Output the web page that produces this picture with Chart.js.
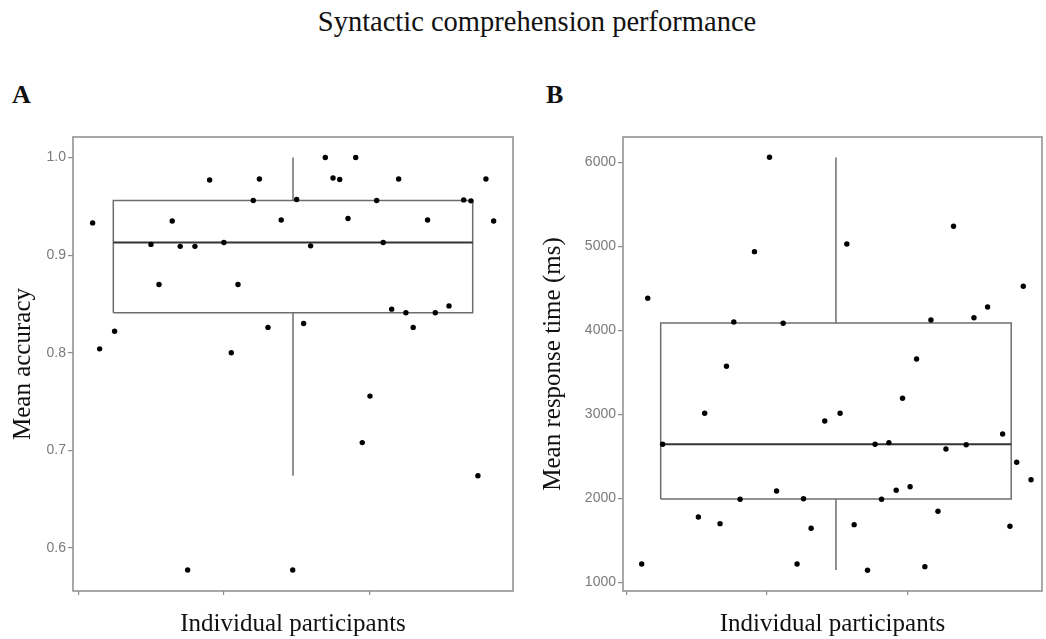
<!DOCTYPE html>
<html>
<head>
<meta charset="utf-8">
<script src="https://cdn.jsdelivr.net/npm/chart.js@4.4.0/dist/chart.umd.min.js"></script>
<style>
  body { margin: 0; background: #fff; width: 1046px; height: 639px; position: relative; overflow: hidden; font-family: "Liberation Serif", serif; color: #111; }
  #title { position: absolute; left: 0; top: 6px; width: 1074px; text-align: center; font-size: 28.5px; line-height: 32px; white-space: nowrap; }
  .tag { position: absolute; top: 80px; font-size: 26px; line-height: 30px; font-weight: bold; }
  #accChart { position: absolute; left: 0; top: 120px; }
  #rtChart { position: absolute; left: 530px; top: 120px; }
</style>
</head>
<body>
<div id="title">Syntactic comprehension performance</div>
<div class="tag" style="left:12px">A</div>
<div class="tag" style="left:546px">B</div>
<canvas id="accChart" width="520" height="519"></canvas>
<canvas id="rtChart" width="516" height="519"></canvas>
<script>
// participants are jittered along x; x ticks at 0, 1, 2 carry no labels
const xTicks = [0, 1, 2];

// panel A: mean accuracy per participant
const accX = [0.099, 0.147, 0.250, 0.500, 0.555, 0.646, 0.701, 0.752, 0.802, 0.903,
  1.001, 1.052, 1.098, 1.203, 1.245, 1.304, 1.395, 1.474, 1.501, 1.549,
  1.597, 1.698, 1.751, 1.797, 1.854, 1.907, 1.952, 2.005, 2.051, 2.096,
  2.154, 2.202, 2.252, 2.302, 2.401, 2.454, 2.548, 2.649, 2.699, 2.747,
  2.802, 2.855];
const accY = [0.933, 0.804, 0.822, 0.911, 0.870, 0.935, 0.909, 0.5775, 0.909, 0.977,
  0.913, 0.800, 0.870, 0.956, 0.978, 0.826, 0.936, 0.5775, 0.957, 0.830,
  0.9095, 1.0, 0.979, 0.9775, 0.9376, 1.0, 0.708, 0.7556, 0.956, 0.913,
  0.8447, 0.978, 0.841, 0.826, 0.936, 0.841, 0.848, 0.9566, 0.9556, 0.674,
  0.978, 0.935];
const accStats = [0.674, 0.841, 0.913, 0.956, 1.0]; // whisker low, q1, median, q3, whisker high
const accBoxSpan = [0.241, 2.711];
const accTicks = [0.6, 0.7, 0.8, 0.9, 1.0];

// panel B: mean response time (ms) per participant
const rtX = [0.109, 0.152, 0.258, 0.512, 0.557, 0.666, 0.712, 0.764, 0.809, 0.911,
  1.018, 1.068, 1.115, 1.214, 1.260, 1.314, 1.411, 1.520, 1.568, 1.620,
  1.715, 1.769, 1.815, 1.867, 1.919, 1.964, 2.018, 2.064, 2.123, 2.166,
  2.216, 2.273, 2.327, 2.417, 2.472, 2.569, 2.676, 2.728, 2.776, 2.823,
  2.878];
const rtY = [1218, 4381, 2643, 1777, 3012, 1698, 3571, 4099, 1988, 4936,
  6060, 2087, 4083, 1218, 1995, 1643, 2920, 3012, 5027, 1686,
  1143, 2643, 1988, 2662, 2095, 3190, 2138, 3658, 1186, 4123,
  1845, 2587, 5238, 2638, 4150, 4277, 2765, 1667, 2429, 4524,
  2221];
const rtStats = [1146, 1992, 2643, 4087, 6058];
const rtBoxSpan = [0.244, 2.737];
const rtTicks = [1000, 2000, 3000, 4000, 5000, 6000];

const serif = 'Liberation Serif';
const sans = 'Liberation Sans';
const axisGrey = '#8c8c8c';

const frame = {
  id: 'frame',
  beforeDatasetsDraw(chart) {
    const { ctx, chartArea: a } = chart;
    ctx.save();
    ctx.strokeStyle = axisGrey;
    ctx.lineWidth = 1.5;
    ctx.strokeRect(a.left, a.top, a.right - a.left, a.bottom - a.top);
    ctx.restore();
  }
};

function segment(points, color, width) {
  return {
    type: 'scatter',
    data: points,
    showLine: true,
    pointRadius: 0,
    borderColor: color,
    borderWidth: width,
    tension: 0
  };
}

function makePanel(canvas, cfg) {
  const [lo, q1, med, q3, hi] = cfg.stats;
  const [bl, br] = cfg.span;
  const mid = (bl + br) / 2;
  const points = cfg.xs.map((x, i) => ({ x, y: cfg.ys[i] }));

  new Chart(canvas, {
    type: 'scatter',
    data: {
      datasets: [
        { data: points, backgroundColor: '#000', borderWidth: 0, pointRadius: 2.7 },
        segment([{ x: bl, y: med }, { x: br, y: med }], '#333', 2),
        segment([{ x: bl, y: q1 }, { x: br, y: q1 }, { x: br, y: q3 }, { x: bl, y: q3 }, { x: bl, y: q1 }], '#6e6e6e', 1.5),
        segment([{ x: mid, y: q3 }, { x: mid, y: hi }], '#6e6e6e', 1.5),
        segment([{ x: mid, y: q1 }, { x: mid, y: lo }], '#6e6e6e', 1.5)
      ]
    },
    options: {
      responsive: false,
      animation: false,
      layout: { padding: { top: 17, right: cfg.rightPad, left: 0, bottom: 0 } },
      plugins: { legend: { display: false }, tooltip: { enabled: false } },
      scales: {
        x: {
          type: 'linear',
          min: cfg.xRange[0],
          max: cfg.xRange[1],
          afterBuildTicks: s => { s.ticks = xTicks.map(v => ({ value: v })); },
          afterFit: s => { s.height = 48; },
          ticks: { display: false },
          grid: { drawOnChartArea: false, tickLength: 4, color: axisGrey, lineWidth: 1.2 },
          border: { display: false },
          title: { display: true, text: 'Individual participants', color: '#111',
                   font: { family: serif, size: 25 }, padding: { top: 0, bottom: 0 } }
        },
        y: {
          type: 'linear',
          min: cfg.yRange[0],
          max: cfg.yRange[1],
          afterBuildTicks: s => { s.ticks = cfg.yTicks.map(v => ({ value: v })); },
          afterFit: s => { s.width = cfg.yWidth; },
          ticks: { color: '#7a7a7a', font: { family: sans, size: 14 }, padding: 2, callback: cfg.fmt },
          grid: { drawOnChartArea: false, tickLength: 5, color: axisGrey, lineWidth: 1.2 },
          border: { display: false },
          title: { display: true, text: cfg.yTitle, color: '#111',
                   font: { family: serif, size: 25 }, padding: { top: 8, bottom: 0 } }
        }
      }
    },
    plugins: [frame]
  });
}

makePanel(document.getElementById('accChart'), {
  xs: accX, ys: accY, stats: accStats, span: accBoxSpan, yTicks: accTicks,
  xRange: [-0.036, 2.988], yRange: [0.556, 1.021],
  yWidth: 73, rightPad: 7, yTitle: 'Mean accuracy', fmt: v => v.toFixed(1)
});

makePanel(document.getElementById('rtChart'), {
  xs: rtX, ys: rtY, stats: rtStats, span: rtBoxSpan, yTicks: rtTicks,
  xRange: [-0.024, 2.956], yRange: [896, 6301],
  yWidth: 93, rightPad: 4, yTitle: 'Mean response time (ms)', fmt: v => String(v)
});
</script>
</body>
</html>
